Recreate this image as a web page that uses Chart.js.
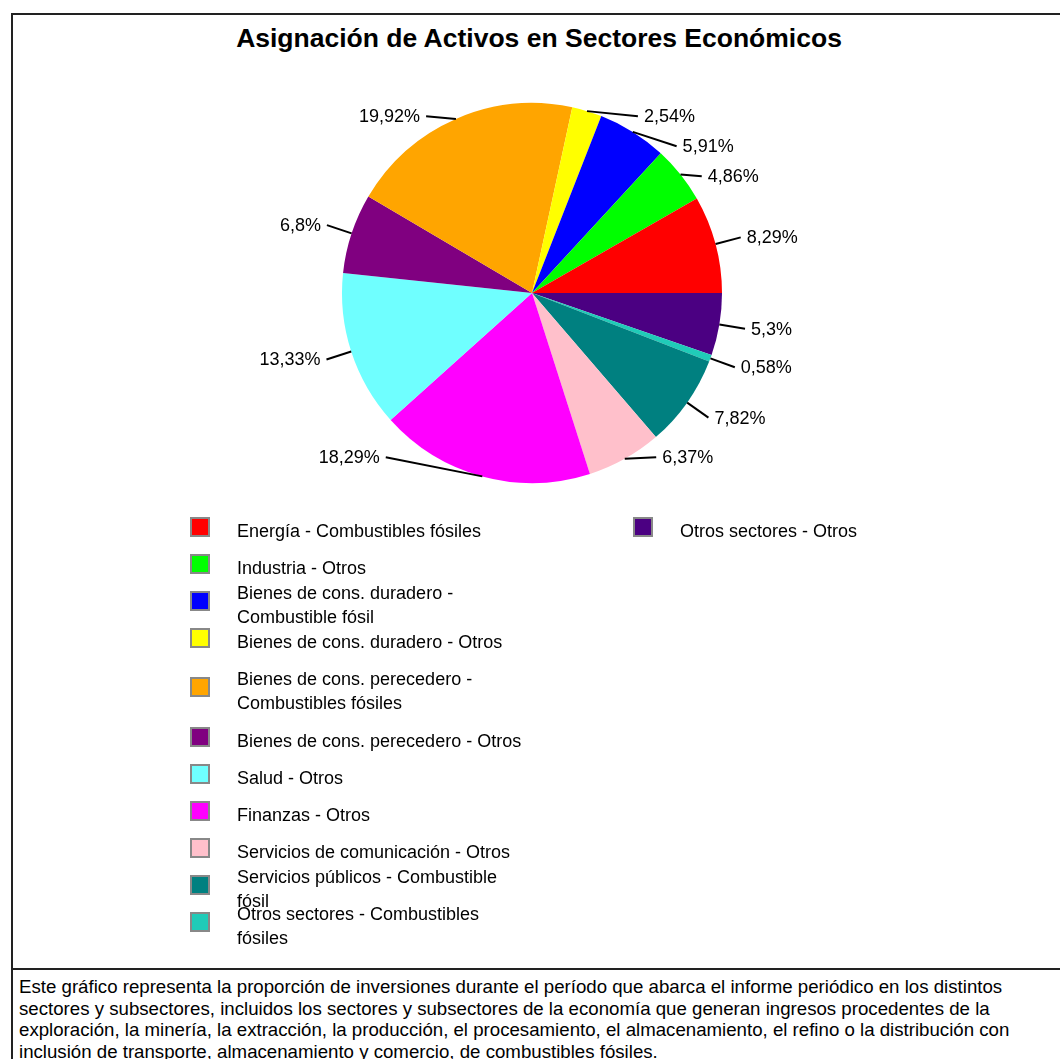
<!DOCTYPE html>
<html>
<head>
<meta charset="utf-8">
<script src="https://cdn.jsdelivr.net/npm/chart.js@4.4.1/dist/chart.umd.min.js"></script>
<style>
    body { margin: 0; background: #fff; font-family: Arial, "Liberation Sans", sans-serif; color: #000; }
    #frame { position: absolute; left: 11px; top: 13px; width: 1100px; height: 953px;
             border-top: 2px solid #222; border-left: 2px solid #222; border-bottom: 2px solid #222; }
    #captionBox { position: absolute; left: 11px; top: 970px; width: 1100px; height: 100px; border-left: 2px solid #222; }
    #title { position: absolute; left: 0; width: 1078px; top: 22px; text-align: center;
             font-weight: bold; font-size: 26.5px; line-height: 32px; }
    #chartWrap { position: absolute; left: 0; top: 60px; }
    .legendCol { position: absolute; top: 511px; }
    .legendRow { height: 37px; display: flex; align-items: center; }
    .legendRow.tall { height: 62px; }
    .swatch { width: 16px; height: 16px; border: 2px solid #888; margin-top: -6px; flex: none; }
    .legendText { margin-left: 27px; width: 288px; font-size: 18px; line-height: 24px; margin-top: 2px; }
    #caption { position: absolute; left: 19px; top: 976px; width: 1025px; font-size: 18.67px; line-height: 21.7px; }
</style>
</head>
<body>
<div id="frame"></div>
<div id="captionBox"></div>
<div id="title">Asignación de Activos en Sectores Económicos</div>
<div id="chartWrap"><canvas id="myChart" width="1064" height="480"></canvas></div>
<div id="legend"></div>
<div id="caption">Este gráfico representa la proporción de inversiones durante el período que abarca el informe periódico en los distintos sectores y subsectores, incluidos los sectores y subsectores de la economía que generan ingresos procedentes de la exploración, la minería, la extracción, la producción, el procesamiento, el almacenamiento, el refino o la distribución con inclusión de transporte, almacenamiento y comercio, de combustibles fósiles.</div>

<script>
// Sectors, in legend order (pie runs counter-clockwise from 3 o'clock)
var sectors = [
    'Energía - Combustibles fósiles',
    'Industria - Otros',
    'Bienes de cons. duradero - Combustible fósil',
    'Bienes de cons. duradero - Otros',
    'Bienes de cons. perecedero - Combustibles fósiles',
    'Bienes de cons. perecedero - Otros',
    'Salud - Otros',
    'Finanzas - Otros',
    'Servicios de comunicación - Otros',
    'Servicios públicos - Combustible fósil',
    'Otros sectores - Combustibles fósiles',
    'Otros sectores - Otros'
];
var shares = [8.29, 4.86, 5.91, 2.54, 19.92, 6.8, 13.33, 18.29, 6.37, 7.82, 0.58, 5.3];
var sectorColors = ['#ff0000', '#00ff00', '#0000ff', '#ffff00', '#ffa500', '#800080',
                    '#6fffff', '#ff00ff', '#ffc0cb', '#008080', '#20cbb8', '#4b0082'];

function fmtPct(v) {
    return String(v).replace('.', ',') + '%';
}

// Legend: two columns, eleven rows in the first one
(function buildLegend() {
    var legend = document.getElementById('legend');
    var perCol = 11;
    var colLeft = [190, 633];
    var col;
    sectors.forEach(function(name, i) {
        if (i % perCol === 0) {
            col = document.createElement('div');
            col.className = 'legendCol';
            col.style.left = colLeft[Math.floor(i / perCol)] + 'px';
            legend.appendChild(col);
        }
        var row = document.createElement('div');
        row.className = 'legendRow' + (i === 4 ? ' tall' : '');
        var sw = document.createElement('div');
        sw.className = 'swatch';
        sw.style.background = sectorColors[i];
        var txt = document.createElement('div');
        txt.className = 'legendText';
        txt.textContent = name;
        row.appendChild(sw);
        row.appendChild(txt);
        col.appendChild(row);
    });
})();

// Percentage labels outside the pie, with leader lines
var outsideLabels = {
    id: 'outsideLabels',
    afterDatasetsDraw: function(chart) {
        var ctx = chart.ctx;
        var meta = chart.getDatasetMeta(0);
        var data = chart.data.datasets[0].data;
        var items = [];
        meta.data.forEach(function(arc, i) {
            var mid = (arc.startAngle + arc.endAngle) / 2;
            var R = arc.outerRadius;
            var want = arc.y + (R + 26) * Math.sin(mid);
            items.push({
                cx: arc.x, cy: arc.y, R: R, mid: mid,
                right: Math.cos(mid) >= 0,
                want: want,
                y: Math.min(Math.max(want, arc.y - R * 0.93), arc.y + R * 0.865),
                text: fmtPct(data[i])
            });
        });
        [true, false].forEach(function(side) {
            var list = items.filter(function(it) { return it.right === side; });
            list.sort(function(a, b) { return a.want - b.want; });
            for (var k = 1; k < list.length; k++) {
                list[k].y = Math.max(list[k].y, list[k - 1].y + 30);
            }
        });
        ctx.save();
        ctx.strokeStyle = '#000';
        ctx.lineWidth = 2;
        ctx.fillStyle = '#000';
        ctx.font = '18px Arial, "Liberation Sans", sans-serif';
        ctx.textBaseline = 'middle';
        items.forEach(function(it) {
            var dir = it.right ? 1 : -1;
            var x;
            if (Math.abs(it.y - it.want) > 1) {
                // label was pushed: slide it along a ring round the pie
                var dy = it.y - it.cy;
                var rr = it.R + ((!it.right && dy > 0) ? 30 : 16);
                x = it.cx + dir * Math.sqrt(Math.max(0, rr * rr - dy * dy));
            } else {
                x = it.cx + (it.R + 26) * Math.cos(it.mid);
            }
            ctx.beginPath();
            ctx.moveTo(it.cx + it.R * Math.cos(it.mid), it.cy + it.R * Math.sin(it.mid));
            ctx.lineTo(x, it.y);
            ctx.stroke();
            ctx.textAlign = it.right ? 'left' : 'right';
            ctx.fillText(it.text, x + dir * 6, it.y + 1);
        });
        ctx.restore();
    }
};

// Chart.js draws clockwise, so feed the slices in reverse
var ctx = document.getElementById('myChart').getContext('2d');
var myPie = new Chart(ctx, {
    type: 'pie',
    data: {
        labels: sectors.slice().reverse(),
        datasets: [{
            data: shares.slice().reverse(),
            backgroundColor: sectorColors.slice().reverse(),
            borderWidth: 0
        }]
    },
    options: {
        responsive: false,
        animation: false,
        devicePixelRatio: 1,
        rotation: 90,
        layout: { padding: { top: 43, bottom: 57 } },
        plugins: {
            legend: { display: false },
            tooltip: { enabled: false }
        }
    },
    plugins: [outsideLabels]
});
</script>
</body>
</html>
